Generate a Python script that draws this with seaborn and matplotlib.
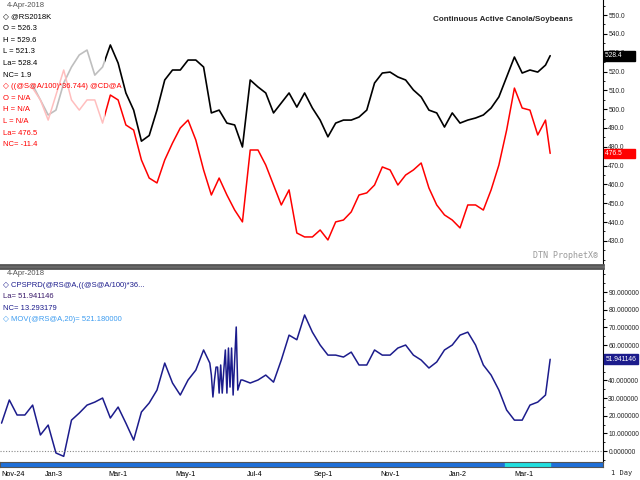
import numpy as np
import pandas as pd
import matplotlib
matplotlib.use("Agg")
import matplotlib.pyplot as plt
import matplotlib.transforms as mtransforms
from matplotlib.patches import Rectangle
from matplotlib.ticker import MultipleLocator, FixedLocator, FormatStrFormatter
import seaborn as sns

# --- DATOS (lecturas semanales del grafico) ---
origin = "2016-11-24"
end_axis = "2018-05-22"
last_day = "2018-04-04"

# cierres semanales (viernes) de Dec-23-2016 a Mar-30-2018, mas el ultimo dia
rs_close = [512.8, 504.9, 496.9, 499.5, 513.9, 522.4, 528.8, 531.4, 518.1, 522.4,
            534.1, 524.5, 508.6, 499.5, 483.0, 486.0, 499.5, 515.5, 520.8, 520.8,
            526.1, 526.1, 522.4, 498.0, 499.5, 492.6, 491.6, 479.9, 515.5, 511.8,
            508.6, 498.0, 503.3, 508.6, 501.1, 508.6, 500.6, 494.2, 485.3, 492.6,
            494.2, 494.2, 495.8, 499.5, 513.9, 519.2, 519.7, 517.1, 515.5, 510.2,
            506.5, 499.5, 498.0, 490.5, 498.0, 492.6, 494.2, 495.3, 496.9, 500.6,
            506.5, 517.1, 527.7, 519.2, 520.8, 519.7, 523.4, 528.4]
soy_conv = [511.2, 504.9, 494.2, 507.5, 520.8, 504.9, 499.5, 504.9, 504.9, 492.6,
            507.5, 504.9, 491.6, 488.9, 473.0, 463.4, 460.8, 473.0, 482.0, 490.0,
            494.2, 483.6, 467.7, 454.4, 463.4, 454.4, 446.4, 440.1, 478.3, 478.3,
            470.3, 459.7, 449.1, 457.1, 434.2, 432.1, 432.1, 435.8, 430.5, 440.1,
            441.1, 445.4, 454.4, 455.5, 459.7, 469.3, 467.7, 459.7, 465.0, 467.7,
            471.4, 458.1, 449.1, 443.8, 441.1, 436.9, 449.1, 449.1, 446.4, 457.1,
            470.3, 488.9, 511.2, 500.6, 499.5, 486.3, 494.2, 476.5]

# spread: semanal Nov-25-2016..May-26-2017, diario en junio 2017, semanal Jul-7-2017..Mar-30-2018
spread_early = [15.8, 28.9, 20.4, 20.4, 26.0, 9.1, 14.7, -1.1, -3.0, 17.5,
                21.5, 26.0, 27.7, 30.0, 18.7, 24.9, 15.8, 6.2, 22.1, 27.2,
                34.5, 49.8, 38.5, 31.7, 40.2, 45.8, 57.2]
spread_june = [49.8, 43.0, 30.6, 40.2, 47.5, 47.5, 32.8, 48.7, 32.8, 45.8,
               57.2, 32.8, 58.3, 36.2, 58.3, 31.7, 51.5, 70.2, 34.5, 37.4,
               40.2, 40.2]
spread_late = [38.5, 40.2, 43.0, 39.0, 51.5, 65.6, 63.0, 77.0, 67.3, 60.0,
               54.3, 54.3, 53.2, 56.0, 48.7, 48.7, 57.2, 54.3, 54.3, 58.3,
               60.0, 54.3, 51.5, 47.0, 50.4, 57.2, 60.0, 65.6, 67.3, 60.0,
               48.7, 43.0, 34.5, 23.2, 17.5, 17.5, 26.0, 27.7, 31.7, 51.941146]

top_ticks = list(range(430, 551, 10))
bot_ticks = list(range(0, 91, 10))
tick_dates = ["2016-11-24", "2017-01-03", "2017-03-01", "2017-05-01", "2017-07-04",
              "2017-09-01", "2017-11-01", "2018-01-02", "2018-03-01"]
tick_labels = ["Nov-24", "Jan-3", "Mar-1", "May-1", "Jul-4", "Sep-1", "Nov-1", "Jan-2", "Mar-1"]

rs_dates = list(pd.date_range("2016-12-23", "2018-03-30", freq="7D")) + [pd.Timestamp(last_day)]
spread_dates = (list(pd.date_range("2016-11-25", "2017-05-26", freq="7D"))
                + list(pd.bdate_range("2017-06-01", "2017-06-30"))
                + list(pd.date_range("2017-07-07", "2018-03-30", freq="7D"))
                + [pd.Timestamp(last_day)])


def bpos(dates):
    # posicion en dias habiles desde el origen (eje de trading)
    d = np.array(pd.to_datetime(dates).values.astype("datetime64[D]"))
    return np.busday_count(np.datetime64(origin), d)


top_df = pd.DataFrame({"x": bpos(rs_dates), "rs": rs_close, "soy": soy_conv})
bot_df = pd.DataFrame({"x": bpos(spread_dates),
                       "spread": spread_early + spread_june + spread_late})
x_end = int(bpos([end_axis])[0])

# --- ESTILO ---
sns.set_style("white")
plt.rcParams["font.family"] = ["Liberation Sans", "DejaVu Sans"]
FS_TICK = 4.8
FS_LEG = 5.5

fig = plt.figure(figsize=(6.4, 4.8), dpi=100)
W, H = 640.0, 480.0
ax = fig.add_axes([0, 1 - 265 / H, 603 / W, 265 / H])
ax2 = fig.add_axes([0, 1 - 462 / H, 603 / W, 194 / H])
band = fig.add_axes([0, 1 - 467 / H, 603 / W, 5 / H])


def right_axis(a, ticks, fmt):
    a.set_xlabel("")
    a.set_ylabel("")
    a.set_xticks([])
    a.yaxis.tick_right()
    a.yaxis.set_major_locator(FixedLocator(ticks))
    a.yaxis.set_minor_locator(MultipleLocator(5))
    a.yaxis.set_major_formatter(FormatStrFormatter(fmt))
    a.tick_params(axis="y", which="major", labelsize=FS_TICK, length=3, pad=0.8, color="black")
    a.tick_params(axis="y", which="minor", length=1.5, color="black")
    a.spines["right"].set_color("black")
    a.spines["left"].set_visible(False)


# --- PANEL SUPERIOR ---
sns.lineplot(data=top_df, x="x", y="rs", ax=ax, color="black", lw=1.2)
sns.lineplot(data=top_df, x="x", y="soy", ax=ax, color="#ff0000", lw=1.1)
ax.set_xlim(0, x_end)
ax.set_ylim(417.2, 558.0)
right_axis(ax, top_ticks, "%.1f")
ax.spines["top"].set_visible(False)
ax.spines["bottom"].set_color("#555555")
ax.spines["bottom"].set_linewidth(2)

# fondo semitransparente de la leyenda
ax.add_patch(Rectangle((0, 0.358), 105 / 603, 0.642, transform=ax.transAxes,
                       facecolor="white", alpha=0.75, edgecolor="none", zorder=3))

ax.text(573 / 603, 0.925, "Continuous Active Canola/Soybeans", transform=ax.transAxes,
        ha="right", va="center", fontsize=5.8, fontweight="bold")
ax.text(598 / 603, 0.035, "DTN ProphetX\u00ae", transform=ax.transAxes, ha="right",
        va="center", fontsize=6, color="#9a9a9a", family="DejaVu Sans Mono")

# cajas de ultimo valor
box_kw = dict(ha="left", va="center", fontsize=FS_TICK, color="white", zorder=6)
ax.text(1.004, rs_close[-1], f"{rs_close[-1]:.1f}      ", transform=ax.get_yaxis_transform(),
        bbox=dict(boxstyle="square,pad=0.2", fc="black", ec="black"), **box_kw)
ax.text(1.004, soy_conv[-1], f"{soy_conv[-1]:.1f}      ", transform=ax.get_yaxis_transform(),
        bbox=dict(boxstyle="square,pad=0.2", fc="#ff0000", ec="#ff0000"), **box_kw)

top_legend = [
    ("4-Apr-2018", "#555555", 7),
    ("\u25c7 @RS2018K", "black", 3),
    ("O = 526.3", "black", 3),
    ("H = 529.6", "black", 3),
    ("L = 521.3", "black", 3),
    ("La= 528.4", "black", 3),
    ("NC= 1.9", "black", 3),
    ("\u25c7 ((@S@A/100)*36.744) @CD@A", "#ff0000", 3),
    ("O = N/A", "#ff0000", 3),
    ("H = N/A", "#ff0000", 3),
    ("L = N/A", "#ff0000", 3),
    ("La= 476.5", "#ff0000", 3),
    ("NC= -11.4", "#ff0000", 3),
]
for i, (txt, col, xp) in enumerate(top_legend):
    fig.text(xp / W, 1 - (5.5 + 11.6 * i) / H, txt, color=col, fontsize=FS_LEG,
             va="center", ha="left", zorder=10)

# --- PANEL INFERIOR ---
sns.lineplot(data=bot_df, x="x", y="spread", ax=ax2, color="#1c1c8c", lw=1.1)
ax2.axhline(0, color="#888888", lw=0.8, ls=(0, (1, 1.5)))
ax2.set_xlim(0, x_end)
ax2.set_ylim(-6.2, 103.6)
right_axis(ax2, bot_ticks, "%.6f")
ax2.spines["bottom"].set_visible(False)
ax2.spines["top"].set_color("#555555")
ax2.spines["top"].set_linewidth(2)

last_spread = bot_df["spread"].iloc[-1]
ax2.text(1.004, last_spread, f"{last_spread:.6f}", transform=ax2.get_yaxis_transform(),
         bbox=dict(boxstyle="square,pad=0.2", fc="#1c1c8c", ec="#1c1c8c"), **box_kw)

bot_legend = [
    ("4-Apr-2018", "#555555", 7),
    ("\u25c7 CPSPRD(@RS@A,((@S@A/100)*36...", "#1c1c8c", 3),
    ("La= 51.941146", "#3a1a6a", 3),
    ("NC= 13.293179", "#1c1c8c", 3),
    ("\u25c7 MOV(@RS@A,20)= 521.180000", "#3d9cf0", 3),
]
for i, (txt, col, xp) in enumerate(bot_legend):
    fig.text(xp / W, 1 - (273.5 + 11.6 * i) / H, txt, color=col, fontsize=FS_LEG,
             va="center", ha="left", zorder=10)

# --- BARRA DE TIEMPO ---
band.set_facecolor("#1f6fd8")
band.set_xlim(0, x_end)
band.set_ylim(0, 1)
band.axvspan(bpos(["2018-02-22"])[0], bpos([last_day])[0], color="#22dede")
band.set_yticks([])
tpos = bpos(tick_dates)
band.set_xticks(tpos)
band.set_xticklabels([])
band.tick_params(axis="x", length=9, width=0.8, color="#333333", direction="out")
for s in band.spines.values():
    s.set_color("#555555")
    s.set_linewidth(0.8)
lab_tr = mtransforms.blended_transform_factory(band.transData, fig.transFigure)
lab_tr = lab_tr + mtransforms.ScaledTranslation(1.5 / 100, 0, fig.dpi_scale_trans)
for p, lab in zip(tpos, tick_labels):
    band.text(p, 1 - 474 / H, lab, transform=lab_tr, ha="left", va="center",
              fontsize=5.2, color="black")

fig.text(611 / W, 1 - 473 / H, "1 Day", fontsize=5, ha="left", va="center",
         family="DejaVu Sans Mono")

fig.savefig("out.png", dpi=100)
